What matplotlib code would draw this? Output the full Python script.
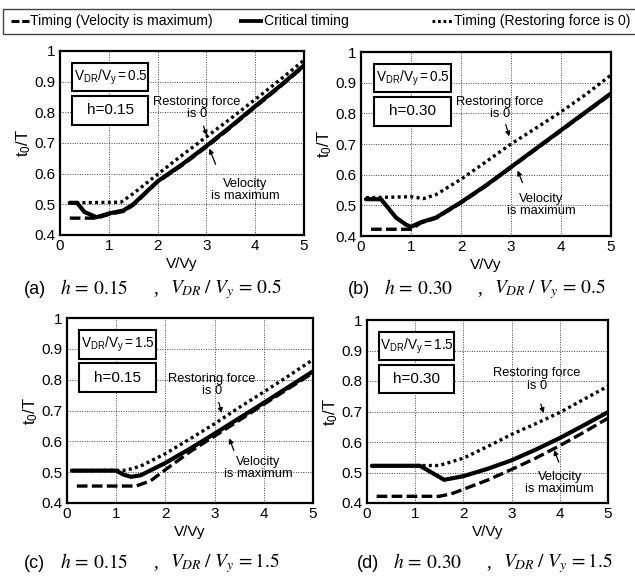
import matplotlib
matplotlib.use("Agg")
import matplotlib.pyplot as plt
from matplotlib.lines import Line2D
from matplotlib.patches import Rectangle

plt.rcParams['font.family'] = ['Liberation Sans', 'DejaVu Sans']
plt.rcParams['mathtext.fontset'] = 'stix'

# ---------------- data ----------------
xticks = [0, 1, 2, 3, 4, 5]
yticks = [0.4, 0.5, 0.6, 0.7, 0.8, 0.9, 1.0]
ytick_labels = ["0.4", "0.5", "0.6", "0.7", "0.8", "0.9", "1"]

# (a) h=0.15, VDR/Vy=0.5
a_vel_x = [0.2, 0.75, 1.0, 1.3, 1.5, 2.0, 2.5, 3.0, 3.5, 4.0, 4.5, 5.0]
a_vel_y = [0.455, 0.455, 0.467, 0.477, 0.497, 0.573, 0.627, 0.687, 0.751, 0.817, 0.882, 0.950]
a_crit_x = [0.2, 0.35, 0.5, 0.75, 1.0, 1.3, 1.5, 2.0, 2.5, 3.0, 3.5, 4.0, 4.5, 5.0]
a_crit_y = [0.505, 0.505, 0.475, 0.458, 0.470, 0.480, 0.500, 0.575, 0.630, 0.690, 0.754, 0.820, 0.885, 0.953]
a_rest_x = [0.2, 1.25, 1.5, 2.0, 2.5, 3.0, 3.5, 4.0, 4.5, 5.0]
a_rest_y = [0.505, 0.507, 0.535, 0.598, 0.660, 0.720, 0.780, 0.842, 0.905, 0.970]

# (b) h=0.30, VDR/Vy=0.5
b_vel_x = [0.2, 1.0, 1.2, 1.5, 2.0, 2.5, 3.0, 3.5, 4.0, 4.5, 5.0]
b_vel_y = [0.422, 0.422, 0.443, 0.458, 0.508, 0.563, 0.623, 0.683, 0.743, 0.803, 0.863]
b_crit_x = [0.1, 0.4, 0.5, 0.7, 0.9, 1.0, 1.2, 1.5, 2.0, 2.5, 3.0, 3.5, 4.0, 4.5, 5.0]
b_crit_y = [0.520, 0.520, 0.500, 0.460, 0.437, 0.430, 0.445, 0.460, 0.510, 0.565, 0.625, 0.685, 0.745, 0.805, 0.865]
b_rest_x = [0.1, 1.0, 1.25, 1.5, 2.0, 2.5, 3.0, 3.5, 4.0, 4.5, 5.0]
b_rest_y = [0.525, 0.528, 0.522, 0.535, 0.585, 0.642, 0.700, 0.752, 0.805, 0.862, 0.925]

# (c) h=0.15, VDR/Vy=1.5
c_vel_x = [0.2, 1.4, 1.7, 2.0, 2.5, 3.0, 3.5, 4.0, 4.5, 5.0]
c_vel_y = [0.455, 0.455, 0.472, 0.508, 0.566, 0.617, 0.668, 0.720, 0.771, 0.822]
c_crit_x = [0.1, 1.0, 1.15, 1.3, 1.5, 2.0, 2.5, 3.0, 3.5, 4.0, 4.5, 5.0]
c_crit_y = [0.505, 0.505, 0.492, 0.485, 0.490, 0.530, 0.576, 0.625, 0.675, 0.725, 0.776, 0.827]
c_rest_x = [0.1, 1.2, 1.5, 2.0, 2.5, 3.0, 3.5, 4.0, 4.5, 5.0]
c_rest_y = [0.505, 0.506, 0.520, 0.560, 0.608, 0.657, 0.710, 0.760, 0.812, 0.865]

# (d) h=0.30, VDR/Vy=1.5
d_vel_x = [0.2, 1.5, 1.75, 2.0, 2.5, 3.0, 3.5, 4.0, 4.5, 5.0]
d_vel_y = [0.422, 0.422, 0.430, 0.445, 0.475, 0.510, 0.547, 0.588, 0.632, 0.678]
d_crit_x = [0.1, 1.1, 1.6, 2.0, 2.5, 3.0, 3.5, 4.0, 4.5, 5.0]
d_crit_y = [0.522, 0.522, 0.476, 0.488, 0.512, 0.540, 0.575, 0.613, 0.655, 0.698]
d_rest_x = [0.1, 1.5, 2.0, 2.5, 3.0, 3.5, 4.0, 4.5, 5.0]
d_rest_y = [0.522, 0.523, 0.547, 0.585, 0.625, 0.660, 0.697, 0.740, 0.783]

box_vdr = [r"$\mathregular{V_{DR}/V_y=0.5}$", r"$\mathregular{V_{DR}/V_y=0.5}$",
           r"$\mathregular{V_{DR}/V_y=1.5}$", r"$\mathregular{V_{DR}/V_y=1.5}$"]
box_h = ["h=0.15", "h=0.30", "h=0.15", "h=0.30"]

cap_letter = ["(a)", "(b)", "(c)", "(d)"]
cap_h = [r"$h\,=\,0.15$", r"$h\,=\,0.30$", r"$h\,=\,0.15$", r"$h\,=\,0.30$"]
cap_v = [r"$V_{DR}\;/\;V_y\,=\,0.5$", r"$V_{DR}\;/\;V_y\,=\,0.5$",
         r"$V_{DR}\;/\;V_y\,=1.5$", r"$V_{DR}\;/\;V_y\,=1.5$"]

# annotation anchor points (data coords): text centre, arrow start, arrow end
rest_txt = [(2.8, 0.815), (2.78, 0.818), (2.94, 0.782), (3.52, 0.805)]
rest_arr = [((2.92, 0.764), (3.03, 0.716)), ((2.88, 0.772), (2.98, 0.716)),
            ((3.07, 0.735), (3.16, 0.683)), ((3.59, 0.733), (3.68, 0.686))]
vel_txt = [(3.79, 0.547), (3.61, 0.501), (3.89, 0.514), (4.0, 0.465)]
vel_arr = [((3.21, 0.622), (3.04, 0.690)), ((3.25, 0.566), (3.11, 0.622)),
           ((3.41, 0.562), (3.28, 0.618)), ((4.0, 0.526), (3.86, 0.582))]

panels = [
    (a_vel_x, a_vel_y, a_crit_x, a_crit_y, a_rest_x, a_rest_y),
    (b_vel_x, b_vel_y, b_crit_x, b_crit_y, b_rest_x, b_rest_y),
    (c_vel_x, c_vel_y, c_crit_x, c_crit_y, c_rest_x, c_rest_y),
    (d_vel_x, d_vel_y, d_crit_x, d_crit_y, d_rest_x, d_rest_y),
]

# ---------------- figure ----------------
W, H = 635, 576
fig = plt.figure(figsize=(W / 100, H / 100), dpi=100)

def px(l, t, r, b):
    return [l / W, 1 - b / H, (r - l) / W, (b - t) / H]

axes_px = [(60, 51, 304, 235), (361, 52, 611, 236), (67, 318, 313, 503), (367, 320, 608, 503)]

dash_style = dict(color='black', lw=2.4, linestyle=(0, (3.2, 1.3)), dash_capstyle='butt')
crit_style = dict(color='black', lw=3.0, solid_capstyle='round')
rest_style = dict(color='black', lw=2.4, linestyle=(0, (0.9, 1.0)), dash_capstyle='butt')

for i, (rect, data) in enumerate(zip(axes_px, panels)):
    ax = fig.add_axes(px(*rect))
    vx, vy, cx, cy, rx, ry = data
    ax.plot(vx, vy, **dash_style, zorder=3)
    ax.plot(rx, ry, **rest_style, zorder=3)
    ax.plot(cx, cy, **crit_style, zorder=4)
    ax.set_xlim(0, 5)
    ax.set_ylim(0.4, 1.0)
    ax.set_xticks(xticks)
    ax.set_yticks(yticks)
    ax.set_yticklabels(ytick_labels)
    ax.tick_params(direction='in', length=0, labelsize=11, pad=3)
    ax.grid(True, color='#444444', lw=0.7, linestyle=(0, (1, 1.5)))
    ax.set_axisbelow(True)
    for s in ax.spines.values():
        s.set_linewidth(1.6)
    ax.set_xlabel("V/Vy", fontsize=11, labelpad=3)
    ax.set_ylabel(r"$\mathregular{t_0/T}$", fontsize=12, labelpad=1)

    # parameter boxes
    for (y0, y1, txt, fs) in [(0.78, 0.935, box_vdr[i], 9.8), (0.60, 0.755, box_h[i], 11)]:
        ax.add_patch(Rectangle((0.05, y0), 0.31, y1 - y0, transform=ax.transAxes,
                               facecolor='white', edgecolor='black', lw=1.5, zorder=5))
        ax.text(0.207, (y0 + y1) / 2, txt, transform=ax.transAxes, ha='center', va='center',
                fontsize=fs, zorder=6)

    # annotations
    ax.text(*rest_txt[i], "Restoring force\nis 0", ha='center', va='center', fontsize=9.3,
            linespacing=1.05, zorder=6)
    ax.annotate("", xy=rest_arr[i][1], xytext=rest_arr[i][0],
                arrowprops=dict(arrowstyle='-|>', color='black', lw=0.9, mutation_scale=7), zorder=6)
    ax.text(*vel_txt[i], "Velocity\nis maximum", ha='center', va='center', fontsize=9.3,
            linespacing=1.05, zorder=6)
    ax.annotate("", xy=vel_arr[i][1], xytext=vel_arr[i][0],
                arrowprops=dict(arrowstyle='-|>', color='black', lw=0.9, mutation_scale=7), zorder=6)

# captions
cap_pos = [  # (y, x_letter)
    (289, 24),
    (289, 348),
    (563, 24),
    (563, 357),
]
fs = 14
for i, (yc, xl) in enumerate(cap_pos):
    y = 1 - yc / H
    fig.text(xl / W, y, cap_letter[i], ha='left', va='center', fontsize=fs - 1)
    fig.text((xl + 36) / W, y, cap_h[i], ha='left', va='center', fontsize=fs)
    fig.text((xl + 129) / W, y, ",", ha='left', va='center', fontsize=fs, family='Liberation Serif')
    fig.text((xl + 146) / W, y, cap_v[i], ha='left', va='center', fontsize=fs)

# legend frame and entries
fig.add_artist(Rectangle((3 / W, 1 - 34 / H), 1.0, 25 / H, transform=fig.transFigure,
                         facecolor='white', edgecolor='#444444', lw=1.0))
ly = 1 - 21 / H
leg_dash = dict(color='black', lw=2.2, linestyle=(0, (2.6, 0.9)), dash_capstyle='butt')
leg_crit = dict(color='black', lw=2.7, solid_capstyle='butt')
leg_rest = dict(color='black', lw=2.2, linestyle=(0, (0.9, 0.9)), dash_capstyle='butt')
leg = [
    ((11, 29), leg_dash, "Timing (Velocity is maximum)"),
    ((239, 263), leg_crit, "Critical timing"),
    ((432, 453), leg_rest, "Timing (Restoring force is 0)"),
]
for (x0, x1), st, label in leg:
    fig.add_artist(Line2D([x0 / W, x1 / W], [ly, ly], transform=fig.transFigure, **st))
    fig.text((x1 + 1) / W, ly, label, ha='left', va='center', fontsize=10.1)

fig.savefig("out.png", dpi=100)
